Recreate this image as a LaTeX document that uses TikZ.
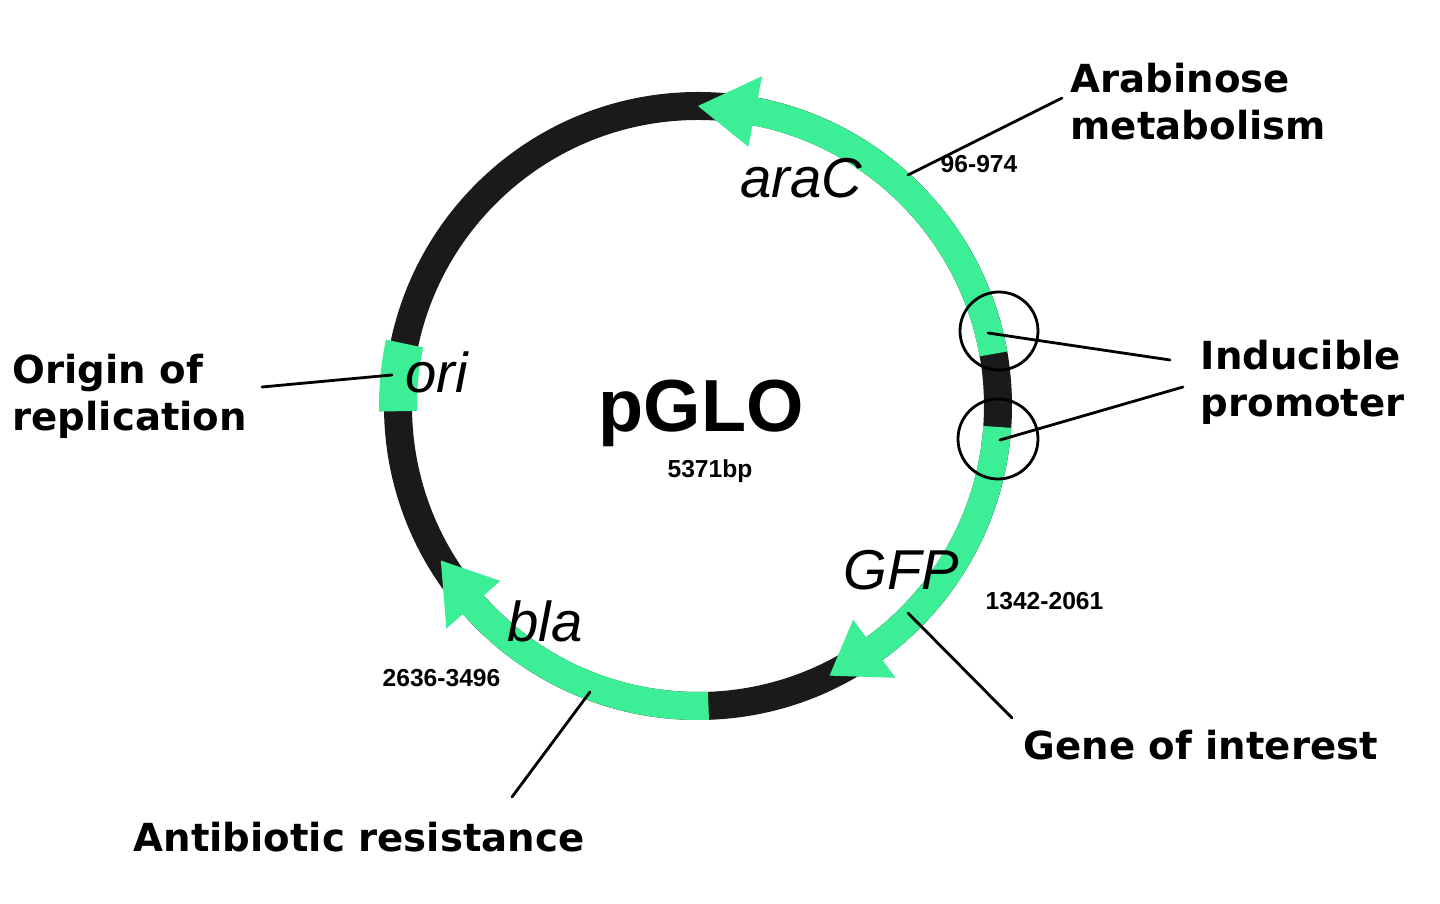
\documentclass[tikz,border=0pt]{standalone}
\usepackage{fontspec}
\setmainfont{Liberation Sans}
\newfontfamily\nhanfont{DejaVu Sans}
\usetikzlibrary{calc}
\definecolor{xanh}{RGB}{60,238,150}
\definecolor{den}{RGB}{26,26,26}

\begin{document}
\begin{tikzpicture}[line join=round,line cap=round,
	nhan/.style={font=\nhanfont\bfseries\fontsize{11}{13.4}\selectfont,align=left,inner sep=0pt},
	gen/.style={font=\itshape\fontsize{16}{16}\selectfont,inner sep=0pt},
	so/.style={font=\bfseries\fontsize{7}{7}\selectfont,inner sep=0pt},
	ke/.style={line width=0.8pt}]
	\useasboundingbox (-6.98,-4.98) rectangle (7.42,4.06);
	% Vong plasmid
	\def\bk{3}
	\def\bkn{3.14}
	\def\bkt{2.86}
	\def\dn{3.36}
	\def\dt{2.64}
	\coordinate (O) at (0,0);
	\draw[den,line width=0.28cm] (O) circle (\bk);
	% araC
	\fill[xanh] (10:\bkn) arc (10:79:\bkn) -- (79:\dn) -- (90:\bk) -- (79:\dt) -- (79:\bkt) arc (79:10:\bkt) -- cycle;
	% GFP
	\fill[xanh] (-4:\bkn) arc (-4:-54:\bkn) -- (-54:\dn) -- (-64:\bk) -- (-54:\dt) -- (-54:\bkt) arc (-54:-4:\bkt) -- cycle;
	% bla
	\fill[xanh] (-88:\bkn) arc (-88:-138.5:\bkn) -- (-138.5:\dn) -- (-149:\bk) -- (-138.5:\dt) -- (-138.5:\bkt) arc (-138.5:-88:\bkt) -- cycle;
	% ori
	\fill[xanh] (168:3.19) arc (168:181:3.19) -- (181:2.81) arc (181:168:2.81) -- cycle;
	% promoter
	\draw[ke] (3.01,0.75) circle (0.39) (3.00,-0.33) circle (0.40);
	% ten gen
	\path (0.42,2.08) node[gen,anchor=base west] (araC) {araC};
	\path (-2.93,0.13) node[gen,anchor=base west] (ori) {ori};
	\path (1.45,-1.84) node[gen,anchor=base west] (GFP) {GFP};
	\path (-1.91,-2.36) node[gen,anchor=base west] (bla) {bla};
	\path (0.03,-0.26) node[anchor=base,inner sep=0pt,font=\bfseries\fontsize{21}{21}\selectfont] (pGLO) {pGLO};
	\path (0.12,-0.72) node[so,anchor=base] (bp) {5371bp};
	\path (2.42,2.33) node[so,anchor=base west] (s1) {96-974};
	\path (2.87,-2.04) node[so,anchor=base west] (s2) {1342-2061};
	\path (-3.16,-2.81) node[so,anchor=base west] (s3) {2636-3496};
	% chu thich
	\path (3.72,3.04) node[nhan,anchor=west] (arab) {Arabinose\\metabolism};
	\path (5.02,0.24) node[nhan,anchor=west] (indu) {Inducible\\promoter};
	\path (-6.86,0.10) node[nhan,anchor=west] (orig) {Origin of\\replication};
	\path (3.25,-3.54) node[nhan,anchor=base west] (goi) {Gene of interest};
	\path (-5.65,-4.46) node[nhan,anchor=base west] (abr) {Antibiotic resistance};
	% duong chi
	\coordinate (a1) at (2.10,2.31);   \coordinate (a2) at (3.64,3.08);
	\coordinate (p1) at (2.90,0.73);   \coordinate (p2) at (4.72,0.46);
	\coordinate (q1) at (3.02,-0.34);  \coordinate (q2) at (4.85,0.19);
	\coordinate (g1) at (2.10,-2.07);  \coordinate (g2) at (3.14,-3.12);
	\coordinate (b1) at (-1.08,-2.86); \coordinate (b2) at (-1.86,-3.91);
	\coordinate (o1) at (-3.06,0.31);  \coordinate (o2) at (-4.36,0.19);
	\draw[ke] (a1)--(a2) (p1)--(p2) (q1)--(q2) (g1)--(g2) (b1)--(b2) (o1)--(o2);
\end{tikzpicture}
\end{document}
